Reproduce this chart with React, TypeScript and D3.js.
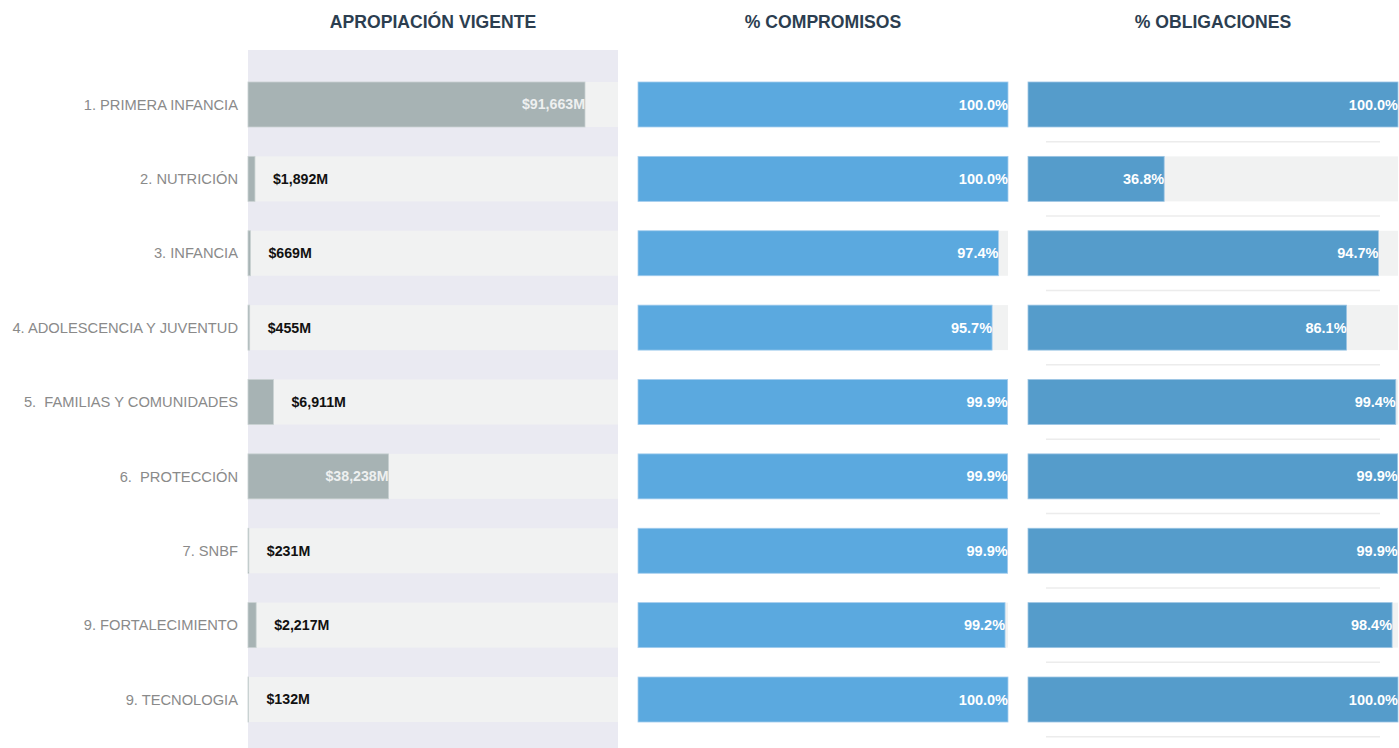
import React, { useEffect } from "react";
import * as d3 from "d3";

const categories = [
  "1. PRIMERA INFANCIA",
  "2. NUTRICIÓN",
  "3. INFANCIA",
  "4. ADOLESCENCIA Y JUVENTUD",
  "5.  FAMILIAS Y COMUNIDADES",
  "6.  PROTECCIÓN",
  "7. SNBF",
  "9. FORTALECIMIENTO",
  "9. TECNOLOGIA",
];
const apropiacion = [91663, 1892, 669, 455, 6911, 38238, 231, 2217, 132];
const compromisos = [100.0, 100.0, 97.4, 95.7, 99.9, 99.9, 99.9, 99.2, 100.0];
const obligaciones = [100.0, 36.8, 94.7, 86.1, 99.4, 99.9, 99.9, 98.4, 100.0];
const titles = ["APROPIACIÓN VIGENTE", "% COMPROMISOS", "% OBLIGACIONES"];

const W = 1399;
const H = 748;
const FONT = "'Liberation Sans', Arial, sans-serif";

export default function App() {
  useEffect(() => {
    document.body.style.margin = "0";
    document.body.style.overflow = "hidden";
  }, []);

  const y = d3
    .scaleBand<string>()
    .domain(categories)
    .range([67.3, 736.7])
    .paddingInner(0.395)
    .paddingOuter(0.1975);
  const bw = y.bandwidth();
  const step = y.step();

  const panels = [
    { x0: 248, x1: 618 },
    { x0: 638, x1: 1008 },
    { x0: 1028, x1: 1398 },
  ];

  const xA = d3.scaleLinear().domain([0, 100640]).range([panels[0].x0, panels[0].x1]);
  const xC = d3.scaleLinear().domain([0, 100]).range([panels[1].x0, panels[1].x1]);
  const xO = d3.scaleLinear().domain([0, 100]).range([panels[2].x0, panels[2].x1]);

  const fmtM = (v: number) => "$" + d3.format(",")(v) + "M";
  const fmtP = (v: number) => d3.format(".1f")(v) + "%";

  return (
    <svg width={W} height={H} style={{ display: "block" }} fontFamily={FONT}>
      <rect x={0} y={0} width={W} height={H} fill="#ffffff" />
      {titles.map((t, i) => (
        <text
          key={t}
          x={(panels[i].x0 + panels[i].x1) / 2}
          y={28}
          textAnchor="middle"
          fontSize={17.6}
          fontWeight="bold"
          fill="#2c3e50"
        >
          {t}
        </text>
      ))}

      <rect x={panels[0].x0} y={50} width={panels[0].x1 - panels[0].x0} height={H - 50} fill="#eaeaf2" />

      {categories.map((c) => (
        <text
          key={c}
          x={238}
          y={(y(c) as number) + bw / 2}
          dy="0.35em"
          textAnchor="end"
          fontSize={14.7}
          fill="#8a8a8a"
          style={{ whiteSpace: "pre" }}
        >
          {c}
        </text>
      ))}

      {categories.map((c, i) => {
        const yy = y(c) as number;
        const v = apropiacion[i];
        const xe = xA(v);
        const inside = xe - panels[0].x0 > 90;
        return (
          <g key={"a" + c}>
            <rect x={panels[0].x0} y={yy} width={panels[0].x1 - panels[0].x0} height={bw} fill="#f1f2f2" />
            <rect
              x={panels[0].x0}
              y={yy}
              width={xe - panels[0].x0}
              height={bw}
              fill="#a7b3b4"
              stroke="#c9d1d2"
              strokeWidth={0.8}
            />
            <text
              x={inside ? xe : xe + 18}
              y={yy + bw / 2}
              dy="0.35em"
              textAnchor={inside ? "end" : "start"}
              fontSize={14.2}
              fontWeight="bold"
              fill={inside ? "#eef0f0" : "#111111"}
            >
              {fmtM(v)}
            </text>
          </g>
        );
      })}

      {categories.map((c, i) => {
        const yy = y(c) as number;
        const v = compromisos[i];
        const xe = xC(v);
        return (
          <g key={"c" + c}>
            <rect x={panels[1].x0} y={yy} width={panels[1].x1 - panels[1].x0} height={bw} fill="#f1f2f2" />
            <rect
              x={panels[1].x0}
              y={yy}
              width={xe - panels[1].x0}
              height={bw}
              fill="#5ba9df"
              stroke="#a3cdee"
              strokeWidth={0.8}
            />
            <text
              x={xe}
              y={yy + bw / 2}
              dy="0.35em"
              textAnchor="end"
              fontSize={14.5}
              fontWeight="bold"
              fill="#ffffff"
            >
              {fmtP(v)}
            </text>
          </g>
        );
      })}

      {categories.map((c) => {
        const yl = (y(c) as number) + bw + (step - bw) / 2;
        return <line key={"l" + c} x1={1046} x2={1380} y1={yl} y2={yl} stroke="#ececec" strokeWidth={1.5} />;
      })}

      {categories.map((c, i) => {
        const yy = y(c) as number;
        const v = obligaciones[i];
        const xe = xO(v);
        return (
          <g key={"o" + c}>
            <rect x={panels[2].x0} y={yy} width={panels[2].x1 - panels[2].x0} height={bw} fill="#f1f2f2" />
            <rect
              x={panels[2].x0}
              y={yy}
              width={xe - panels[2].x0}
              height={bw}
              fill="#559ccb"
              stroke="#9cc5e4"
              strokeWidth={0.8}
            />
            <text
              x={xe}
              y={yy + bw / 2}
              dy="0.35em"
              textAnchor="end"
              fontSize={14.5}
              fontWeight="bold"
              fill="#ffffff"
            >
              {fmtP(v)}
            </text>
          </g>
        );
      })}
    </svg>
  );
}
